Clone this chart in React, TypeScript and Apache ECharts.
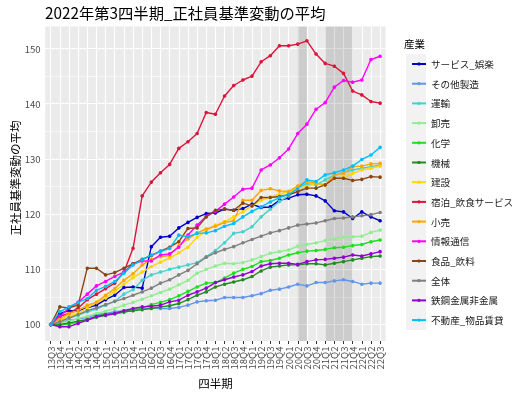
import React, { useEffect, useRef } from "react";
import * as echarts from "echarts";

const FONT = "'Noto Sans CJK JP', 'Noto Sans', sans-serif";

const quarters = [
  "13Q3", "13Q4", "14Q1", "14Q2", "14Q3", "14Q4", "15Q1", "15Q2", "15Q3", "15Q4",
  "16Q1", "16Q2", "16Q3", "16Q4", "17Q1", "17Q2", "17Q3", "17Q4", "18Q1", "18Q2",
  "18Q3", "18Q4", "19Q1", "19Q2", "19Q3", "19Q4", "20Q1", "20Q2", "20Q3", "20Q4",
  "21Q1", "21Q2", "21Q3", "21Q4", "22Q1", "22Q2", "22Q3",
];

const industries = [
  "サービス_娯楽", "その他製造", "運輸", "卸売", "化学", "機械", "建設",
  "宿泊_飲食サービス", "小売", "情報通信", "食品_飲料", "全体", "鉄鋼金属非金属", "不動産_物品賃貸",
];

const colors = [
  "#0000CD", "#6495ED", "#48D1CC", "#90EE90", "#1EE01E", "#228B22", "#FFD700",
  "#DC143C", "#FFA500", "#FF00FF", "#8B4513", "#808080", "#9400D3", "#00BFFF",
];

const service = [100, 102.0, 102.5, 102.5, 103.0, 103.5, 104.5, 105.3, 106.7, 106.8, 106.6, 114.1, 115.8, 116.0, 117.5, 118.5, 119.4, 120.1, 120.2, 120.9, 120.7, 121.0, 121.8, 121.2, 121.3, 122.5, 122.9, 123.5, 123.6, 123.3, 122.4, 120.6, 120.4, 119.2, 120.4, 119.5, 118.8];
const otherMfg = [100, 100.3, 100.8, 101.0, 101.3, 101.8, 102.0, 102.3, 102.5, 102.7, 102.8, 103.0, 102.9, 102.9, 103.1, 103.5, 104.1, 104.3, 104.4, 104.9, 104.9, 104.9, 105.2, 105.6, 106.2, 106.4, 106.8, 107.3, 107.0, 107.6, 107.6, 107.9, 108.1, 107.8, 107.3, 107.5, 107.5];
const transport = [100, 100.6, 101.1, 101.7, 102.3, 102.8, 103.5, 104.2, 105.5, 106.3, 108.0, 109.0, 109.5, 110.0, 110.4, 110.8, 111.2, 112.3, 113.4, 114.8, 116.5, 116.8, 117.7, 119.5, 120.9, 122.3, 123.3, 124.8, 125.5, 125.3, 126.2, 127.0, 127.6, 128.0, 128.3, 128.6, 128.9];
const wholesale = [100, 100.3, 100.6, 101.1, 101.5, 102.0, 102.4, 102.9, 103.5, 104.0, 104.6, 105.2, 105.8, 106.4, 107.2, 108.0, 109.3, 110.0, 110.6, 111.1, 111.0, 111.2, 111.7, 112.3, 112.9, 113.2, 113.5, 114.2, 114.5, 114.8, 115.2, 115.5, 115.8, 115.9, 116.0, 116.7, 117.1];
const chemical = [100, 99.9, 100.1, 100.4, 100.8, 101.3, 101.6, 101.9, 102.2, 102.6, 103.0, 103.6, 104.0, 104.5, 105.2, 106.0, 106.8, 107.5, 107.6, 108.4, 109.3, 110.0, 110.5, 111.4, 111.6, 112.0, 112.6, 113.0, 113.3, 113.4, 113.6, 113.9, 114.0, 114.3, 114.5, 115.0, 115.3];
const machinery = [100, 100.0, 100.3, 100.6, 100.9, 101.5, 101.8, 102.0, 102.3, 102.5, 102.7, 102.9, 103.2, 103.4, 103.8, 104.5, 105.3, 105.9, 106.8, 107.3, 107.7, 108.1, 108.7, 109.7, 110.4, 110.6, 110.8, 110.8, 111.0, 111.0, 110.8, 111.1, 111.4, 111.7, 112.0, 112.3, 112.4];
const construction = [100, 100.8, 101.5, 102.0, 103.0, 104.0, 104.8, 106.0, 107.3, 108.5, 109.5, 110.5, 111.3, 112.0, 113.0, 114.0, 115.8, 117.0, 118.0, 118.6, 119.5, 120.4, 121.5, 122.5, 123.1, 123.6, 124.1, 124.7, 125.0, 125.6, 125.3, 126.5, 126.7, 127.4, 128.0, 128.3, 128.7];
const hospitality = [100, 101.5, 102.0, 103.0, 104.5, 105.5, 106.5, 107.5, 109.5, 113.8, 123.3, 125.8, 127.5, 129.0, 131.9, 133.1, 134.6, 138.4, 138.1, 141.4, 143.3, 144.3, 145.0, 147.6, 148.7, 150.5, 150.5, 150.8, 151.4, 149.0, 147.3, 146.8, 145.5, 142.3, 141.6, 140.4, 140.1];
const retail = [100, 101.0, 102.0, 102.5, 103.5, 104.0, 105.3, 106.5, 108.0, 109.2, 110.8, 111.8, 112.3, 112.5, 114.3, 115.5, 116.6, 117.3, 117.8, 118.5, 118.8, 122.5, 122.5, 124.3, 124.6, 124.2, 124.1, 125.1, 125.9, 125.6, 125.3, 127.1, 127.4, 128.6, 128.7, 129.1, 129.2];
const ict = [100, 101.5, 103.0, 104.0, 105.5, 107.0, 107.8, 108.7, 109.5, 111.0, 111.5, 111.5, 112.6, 112.8, 114.0, 116.2, 118.0, 119.6, 120.5, 121.8, 123.1, 124.5, 124.7, 128.0, 128.9, 130.2, 131.8, 134.6, 136.3, 139.0, 140.2, 143.0, 144.2, 143.9, 144.3, 148.0, 148.6];
const food = [100, 103.2, 103.0, 103.5, 110.2, 110.2, 109.0, 109.4, 110.2, 111.0, 111.8, 112.5, 113.3, 114.0, 115.0, 117.4, 117.5, 119.5, 120.7, 120.9, 120.7, 122.0, 121.5, 123.0, 123.0, 123.2, 123.5, 124.1, 124.7, 124.7, 125.3, 126.5, 126.5, 126.1, 126.3, 126.8, 126.7];
const total = [100, 100.5, 101.2, 101.8, 102.5, 103.0, 103.6, 104.2, 104.7, 105.3, 105.9, 106.6, 107.5, 108.1, 109.0, 109.8, 111.0, 112.2, 113.0, 113.6, 114.1, 114.8, 115.4, 116.0, 116.6, 117.0, 117.5, 118.0, 118.2, 118.4, 118.8, 119.2, 119.3, 119.5, 119.7, 119.9, 120.3];
const steel = [100, 99.6, 99.6, 100.2, 100.8, 101.4, 101.7, 102.0, 102.5, 102.9, 103.2, 103.3, 103.5, 104.1, 104.4, 105.3, 105.9, 106.6, 107.6, 108.1, 108.6, 109.0, 109.6, 110.6, 111.0, 111.1, 111.1, 110.9, 111.4, 111.7, 111.8, 112.0, 112.2, 112.6, 112.4, 112.8, 113.2];
const realEstate = [100, 102.3, 103.2, 104.0, 104.7, 106.2, 106.9, 107.8, 109.3, 110.8, 111.7, 112.6, 113.2, 113.8, 116.2, 115.9, 116.5, 116.6, 117.0, 117.8, 118.3, 119.5, 120.5, 121.3, 122.2, 123.0, 123.6, 124.6, 126.2, 125.9, 127.1, 127.5, 128.0, 128.7, 129.9, 130.7, 132.1];

const seriesValues = [
  service, otherMfg, transport, wholesale, chemical, machinery, construction,
  hospitality, retail, ict, food, total, steel, realEstate,
];

const yTicks = [100, 110, 120, 130, 140, 150];
const yMinorTicks = [105, 115, 125, 135, 145];
const emergencyBands = [["20Q2", "20Q3"], ["21Q1", "21Q4"]];

export default function App() {
  const ref = useRef<HTMLDivElement>(null);

  useEffect(() => {
    if (!ref.current) return;
    const chart = echarts.init(ref.current, null, { renderer: "svg" });

    const all = seriesValues.flat();
    const dMin = Math.min(...all);
    const dMax = Math.max(...all);
    const pad = (dMax - dMin) * 0.05;
    const yLo = dMin - pad;
    const yHi = dMax + pad;
    const xIdx = quarters.map((_, i) => i);
    const xLo = -0.6;
    const xHi = quarters.length - 1 + 0.6;
    // outer placeholders at the axis ends absorb ECharts' min/max label overlap hiding
    const xMarks = [xLo, ...xIdx, xHi];

    const gridLineData: any[] = [
      ...xIdx.map((i) => ({ xAxis: i, lineStyle: { color: "#FFFFFF", width: 1.15, type: "solid" } })),
      ...yTicks.map((v) => ({ yAxis: v, lineStyle: { color: "#FFFFFF", width: 1.15, type: "solid" } })),
      ...yMinorTicks.map((v) => ({ yAxis: v, lineStyle: { color: "#FFFFFF", width: 0.6, type: "solid" } })),
    ];

    const helper: any = {
      type: "line",
      name: "_grid",
      data: [],
      silent: true,
      markLine: {
        silent: true,
        z: 1,
        symbol: ["none", "none"],
        label: { show: false },
        lineStyle: { type: "solid", color: "#FFFFFF" },
        emphasis: { disabled: true },
        data: gridLineData,
      },
      markArea: {
        silent: true,
        z: 2,
        itemStyle: { color: "rgba(0,0,0,0.13)" },
        emphasis: { disabled: true },
        data: emergencyBands.map(([a, b]) => [
          { xAxis: quarters.indexOf(a) },
          { xAxis: quarters.indexOf(b) },
        ]),
      },
    };

    const lines = industries.map((name, k) => ({
      type: "line",
      name,
      data: seriesValues[k].map((v, i) => [i, v]),
      symbol: "circle",
      symbolSize: 3.6,
      showSymbol: true,
      z: 3,
      silent: true,
      emphasis: { disabled: true },
      lineStyle: { width: 1.4, color: colors[k] },
      itemStyle: { color: colors[k] },
    }));

    const option: any = {
      animation: false,
      textStyle: { fontFamily: FONT },
      title: {
        text: "2022年第3四半期_正社員基準変動の平均",
        left: 45,
        top: 4,
        padding: 0,
        textStyle: { fontSize: 15.3, fontWeight: "normal", color: "#000000", fontFamily: FONT },
      },
      grid: {
        left: 45.2,
        right: 139.4,
        top: 26.5,
        bottom: 53,
        show: true,
        backgroundColor: "#EBEBEB",
        borderWidth: 0,
        containLabel: false,
      },
      xAxis: {
        type: "value",
        min: xLo,
        max: xHi,
        axisLine: { show: false },
        splitLine: { show: false },
        axisTick: {
          show: true,
          length: 3,
          customValues: xMarks,
          lineStyle: { color: "#333333", width: 1 },
        },
        axisLabel: {
          customValues: xMarks,
          rotate: 90,
          margin: 5.5,
          fontSize: 9.6,
          color: "#4D4D4D",
          fontFamily: FONT,
          showMinLabel: false,
          showMaxLabel: false,
          hideOverlap: false,
          formatter: (v: number) =>
            Number.isInteger(v) && quarters[v] !== undefined ? quarters[v] : "",
        },
        name: "四半期",
        nameLocation: "middle",
        nameGap: 35,
        nameTextStyle: { fontSize: 11.5, color: "#000000", fontFamily: FONT },
      },
      yAxis: {
        type: "value",
        min: yLo,
        max: yHi,
        axisLine: { show: false },
        splitLine: { show: false },
        axisTick: {
          show: true,
          length: 3,
          customValues: yTicks,
          lineStyle: { color: "#333333", width: 1 },
        },
        axisLabel: {
          customValues: yTicks,
          margin: 4.5,
          fontSize: 9.6,
          color: "#4D4D4D",
          fontFamily: FONT,
          showMinLabel: true,
          showMaxLabel: true,
        },
      },
      legend: {
        orient: "vertical",
        left: 411,
        top: 54.15,
        padding: 0,
        itemGap: 0,
        itemWidth: 14,
        itemHeight: 4,
        selectedMode: false,
        data: industries,
        textStyle: { fontSize: 9.6, lineHeight: 19.7, color: "#1A1A1A", fontFamily: FONT },
      },
      graphic: [
        {
          type: "rect",
          silent: true,
          z: 0,
          shape: { x: 406, y: 54.15, width: 20, height: 19.7 * industries.length },
          style: { fill: "#F2F2F2" },
        },
        {
          type: "text",
          silent: true,
          x: 404,
          y: 43.5,
          style: {
            text: "産業",
            fontSize: 10.5,
            fill: "#000000",
            fontFamily: FONT,
            verticalAlign: "middle",
          },
        },
        {
          type: "text",
          silent: true,
          x: 15,
          y: 178,
          rotation: Math.PI / 2,
          style: {
            text: "正社員基準変動の平均",
            fontSize: 11.5,
            fill: "#000000",
            fontFamily: FONT,
            align: "center",
            verticalAlign: "middle",
          },
        },
      ],
      series: [helper, ...lines],
    };

    chart.setOption(option);
    return () => chart.dispose();
  }, []);

  return (
    <div
      ref={ref}
      style={{ position: "fixed", left: 0, top: 0, width: 525, height: 394 }}
    />
  );
}
